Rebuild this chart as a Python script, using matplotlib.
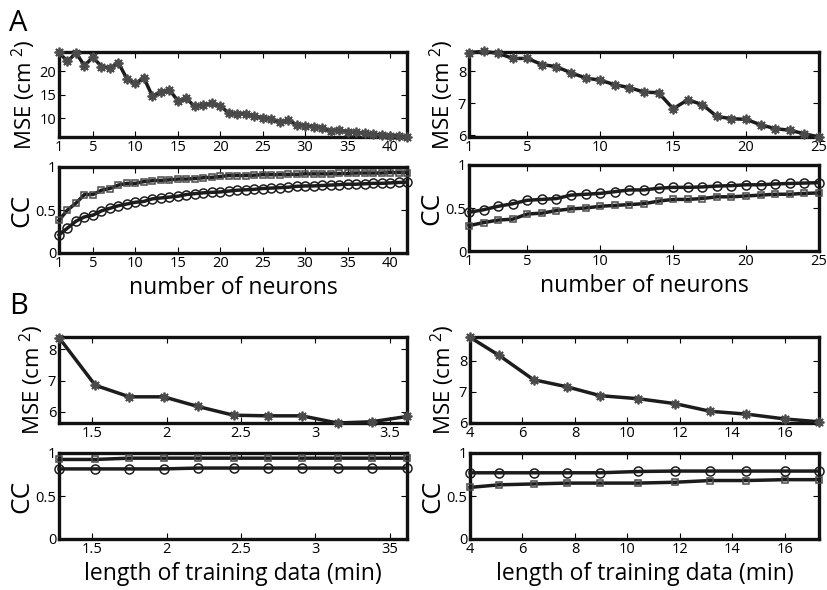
"""Decoding error vs. ensemble size and training length (panels A and B)."""

import matplotlib

matplotlib.use("Agg")
import matplotlib.pyplot as plt

plt.rcParams["font.family"] = ["Open Sans", "DejaVu Sans"]
plt.rcParams["mathtext.fontset"] = "custom"
plt.rcParams["mathtext.rm"] = "Open Sans"
plt.rcParams["mathtext.it"] = "Open Sans"

# --- panel A, left: number of neurons 1..42
neurons_a = list(range(1, 43))
mse_a_left = [24.0, 22.1, 23.9, 21.2, 23.0, 21.0, 20.7, 21.8, 18.4, 17.4,
              18.6, 14.7, 15.6, 16.1, 13.7, 14.2, 12.5, 12.8, 13.2, 12.5,
              11.2, 10.8, 11.0, 10.5, 10.1, 9.8, 9.1, 9.6, 8.6, 8.4,
              8.2, 8.0, 7.3, 7.5, 7.1, 7.0, 6.8, 6.6, 6.5, 6.3,
              6.2, 6.0]
cc_sq_a_left = [0.38, 0.50, 0.58, 0.68, 0.68, 0.73, 0.75, 0.79, 0.81, 0.81,
                0.83, 0.84, 0.845, 0.85, 0.86, 0.86, 0.865, 0.875, 0.88, 0.89,
                0.90, 0.90, 0.90, 0.905, 0.91, 0.91, 0.91, 0.915, 0.915, 0.92,
                0.92, 0.92, 0.92, 0.925, 0.925, 0.93, 0.93, 0.93, 0.93, 0.935,
                0.935, 0.935]
cc_ci_a_left = [0.21, 0.29, 0.37, 0.42, 0.44, 0.49, 0.52, 0.55, 0.57, 0.59,
                0.60, 0.63, 0.64, 0.65, 0.66, 0.68, 0.69, 0.70, 0.705, 0.71,
                0.72, 0.73, 0.735, 0.74, 0.75, 0.755, 0.76, 0.765, 0.775, 0.78,
                0.78, 0.785, 0.79, 0.795, 0.80, 0.80, 0.805, 0.81, 0.81, 0.815,
                0.82, 0.825]

# --- panel A, right: number of neurons 1..25
neurons_b = list(range(1, 26))
mse_a_right = [8.58, 8.62, 8.56, 8.40, 8.40, 8.21, 8.14, 7.95, 7.79, 7.72,
               7.58, 7.49, 7.35, 7.33, 6.83, 7.11, 6.96, 6.59, 6.52, 6.50,
               6.33, 6.21, 6.16, 6.05, 5.95]
cc_ci_a_right = [0.45, 0.48, 0.52, 0.55, 0.59, 0.60, 0.61, 0.65, 0.66, 0.67,
                 0.69, 0.71, 0.71, 0.73, 0.74, 0.74, 0.745, 0.755, 0.76, 0.77,
                 0.77, 0.78, 0.785, 0.79, 0.795]
cc_sq_a_right = [0.295, 0.33, 0.36, 0.37, 0.43, 0.44, 0.47, 0.49, 0.50, 0.52,
                 0.53, 0.54, 0.55, 0.58, 0.60, 0.60, 0.61, 0.63, 0.63, 0.64,
                 0.65, 0.66, 0.66, 0.67, 0.675]

# --- panel B, left: training length (min)
train_b_left = [1.276, 1.52, 1.75, 1.98, 2.21, 2.45, 2.68, 2.91, 3.15, 3.38, 3.617]
mse_b_left = [8.38, 6.85, 6.48, 6.48, 6.17, 5.89, 5.87, 5.87, 5.64, 5.68, 5.85]
cc_sq_b_left = [0.925, 0.925, 0.94, 0.94, 0.94, 0.94, 0.94, 0.94, 0.94, 0.94, 0.94]
cc_ci_b_left = [0.815, 0.815, 0.815, 0.815, 0.825, 0.825, 0.825, 0.825, 0.825, 0.825, 0.825]

# --- panel B, right: training length (min)
train_b_right = [4.0, 5.11, 6.42, 7.69, 8.96, 10.42, 11.82, 13.16, 14.53, 16.02, 17.3]
mse_b_right = [8.77, 8.18, 7.39, 7.16, 6.87, 6.77, 6.61, 6.36, 6.27, 6.11, 6.02]
cc_ci_b_right = [0.77, 0.77, 0.77, 0.77, 0.77, 0.785, 0.79, 0.79, 0.79, 0.79, 0.79]
cc_sq_b_right = [0.60, 0.63, 0.64, 0.65, 0.65, 0.65, 0.66, 0.68, 0.68, 0.69, 0.69]

LINE = "#1c1c1c"
EDGE = "#4a4a4a"
W, H = 828, 590


def box(l, t, r, b):
    return [l / W, 1 - b / H, (r - l) / W, (b - t) / H]


def style(ax):
    for s in ax.spines.values():
        s.set_linewidth(2.4)
        s.set_color("#111111")
    ax.tick_params(direction="in", length=4, width=0.8, top=True, right=True,
                   labelsize=10.5, pad=2)


def mse_plot(ax, x, y, xlim, ylim, xticks, yticks, xlabels=None):
    ax.plot(x, y, color=LINE, lw=2.5, marker=(8, 2, 0), ms=7, mec=EDGE,
            mew=1.3, clip_on=False, zorder=3)
    ax.set_xlim(*xlim)
    ax.set_ylim(*ylim)
    ax.set_xticks(xticks)
    ax.set_xticklabels(xlabels if xlabels is not None else [f"{t:g}" for t in xticks])
    ax.set_yticks(yticks)
    ax.set_ylabel("MSE (cm$^{\\ 2}$)", fontsize=16, labelpad=1)
    style(ax)


def cc_plot(ax, x, sq, ci, xlim, xticks, xlabel, xlabels=None):
    ax.plot(x, sq, color=LINE, lw=2.5, marker="s", ms=5, mfc="none", mec=EDGE,
            mew=1.1, clip_on=False, zorder=3)
    ax.plot(x, ci, color=LINE, lw=2.5, marker="o", ms=6.5, mfc="none", mec=LINE,
            mew=1.1, clip_on=False, zorder=3)
    ax.set_xlim(*xlim)
    ax.set_ylim(0, 1)
    ax.set_xticks(xticks)
    ax.set_xticklabels(xlabels if xlabels is not None else [f"{t:g}" for t in xticks])
    ax.set_yticks([0, 0.5, 1])
    ax.set_yticklabels(["0", "0.5", "1"])
    ax.set_ylabel("CC", fontsize=19, labelpad=1)
    ax.set_xlabel(xlabel, fontsize=16.5, labelpad=4)
    style(ax)


fig = plt.figure(figsize=(W / 100, H / 100), dpi=100)

ticks_42 = [1, 5, 10, 15, 20, 25, 30, 35, 40]
ticks_25 = [1, 5, 10, 15, 20, 25]
ticks_bl = [1.5, 2, 2.5, 3, 3.5]
ticks_br = [4, 6, 8, 10, 12, 14, 16]

ax = fig.add_axes(box(59, 52, 407, 137))
mse_plot(ax, neurons_a, mse_a_left, (1, 42), (6.0, 24.1), ticks_42, [10, 15, 20])
ax = fig.add_axes(box(59, 167, 407, 253))
cc_plot(ax, neurons_a, cc_sq_a_left, cc_ci_a_left, (1, 42), ticks_42, "number of neurons")

ax = fig.add_axes(box(469, 52, 819, 137))
mse_plot(ax, neurons_b, mse_a_right, (1, 25), (5.95, 8.6), ticks_25, [6, 7, 8])
ax = fig.add_axes(box(469, 165, 819, 251))
cc_plot(ax, neurons_b, cc_sq_a_right, cc_ci_a_right, (1, 25), ticks_25, "number of neurons")

ax = fig.add_axes(box(59, 337, 407, 423))
mse_plot(ax, train_b_left, mse_b_left, (1.276, 3.617), (5.64, 8.4), ticks_bl, [6, 7, 8])
ax = fig.add_axes(box(59, 453, 407, 539))
cc_plot(ax, train_b_left, cc_sq_b_left, cc_ci_b_left, (1.276, 3.617), ticks_bl,
        "length of training data (min)", ["1.5", "2", "2.5", "3", "35"])

ax = fig.add_axes(box(470, 337, 819, 423))
mse_plot(ax, train_b_right, mse_b_right, (4.0, 17.3), (5.98, 8.78), ticks_br, [6, 7, 8])
ax = fig.add_axes(box(470, 453, 819, 539))
cc_plot(ax, train_b_right, cc_sq_b_right, cc_ci_b_right, (4.0, 17.3), ticks_br,
        "length of training data (min)")

fig.text(9 / W, 1 - 31 / H, "A", fontsize=21)
fig.text(9 / W, 1 - 314 / H, "B", fontsize=21)

fig.savefig("out.png", dpi=100)
plt.close(fig)
